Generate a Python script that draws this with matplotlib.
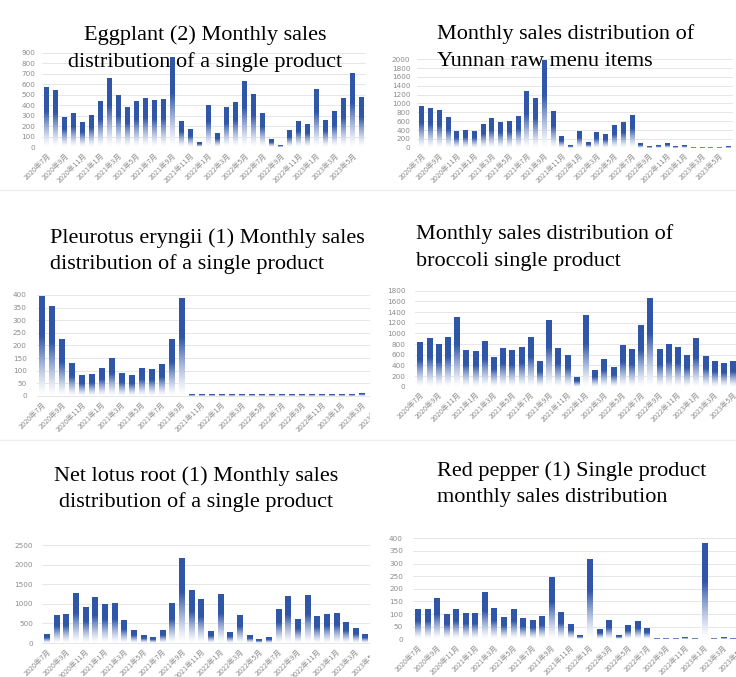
import matplotlib
matplotlib.use("Agg")
import matplotlib.pyplot as plt
import numpy as np
from matplotlib.colors import to_rgb
from matplotlib.lines import Line2D
from matplotlib.transforms import Bbox, TransformedBbox

W, H = 736, 677

months = [
    "2020年7月", "2020年8月", "2020年9月", "2020年10月", "2020年11月", "2020年12月",
    "2021年1月", "2021年2月", "2021年3月", "2021年4月", "2021年5月", "2021年6月",
    "2021年7月", "2021年8月", "2021年9月", "2021年10月", "2021年11月", "2021年12月",
    "2022年1月", "2022年2月", "2022年3月", "2022年4月", "2022年5月", "2022年6月",
    "2022年7月", "2022年8月", "2022年9月", "2022年10月", "2022年11月", "2022年12月",
    "2023年1月", "2023年2月", "2023年3月", "2023年4月", "2023年5月", "2023年6月",
]

eggplant = [570, 540, 280, 315, 235, 305, 430, 655, 490, 380, 430, 465,
            440, 450, 850, 245, 170, 40, 400, 125, 380, 420, 625, 500,
            320, 70, 10, 160, 240, 210, 550, 255, 340, 460, 705, 475]
yunnan = [950, 900, 840, 690, 380, 390, 380, 540, 660, 570, 600, 720,
          1280, 1110, 1990, 820, 270, 50, 370, 120, 340, 300, 510, 580,
          740, 100, 40, 55, 105, 25, 50, 8, 15, 22, 22, 45]
# the screenshots of the next four charts are cut off on the right
pleurotus = [395, 355, 225, 130, 82, 85, 110, 150, 90, 80, 110, 105,
             125, 225, 385, 5, 5, 5, 5, 5, 5, 5, 5, 5,
             5, 5, 5, 5, 5, 5, 5, 5, 8]
broccoli = [830, 900, 790, 930, 1310, 680, 660, 850, 555, 730, 690, 750,
            920, 470, 1240, 730, 600, 170, 1340, 310, 510, 360, 770, 700,
            1160, 1650, 710, 800, 750, 590, 900, 570, 470, 450, 470]
lotus = [210, 690, 730, 1270, 900, 1160, 980, 1000, 570, 320, 190, 130,
         310, 1000, 2150, 1330, 1100, 300, 1250, 260, 700, 200, 100, 130,
         850, 1180, 610, 1210, 680, 730, 750, 530, 380, 210]
red_pepper = [118, 118, 160, 98, 115, 100, 100, 185, 120, 85, 115, 80,
              72, 90, 243, 103, 57, 12, 315, 38, 72, 13, 55, 70,
              40, 3, 3, 3, 6, 3, 380, 3, 5, 3]

BLUE = to_rgb("#2f56a8")
GRID = "#e6e6e6"
TICK = "#8c8c8c"
SERIF = "Liberation Serif"
CJK = ["Noto Sans CJK SC", "DejaVu Sans"]


def bar_gradient(n=80):
    # dark blue at the top fading out to white at the base
    t = np.linspace(0, 1, n)[:, None]
    k = np.clip(t / 0.6, 0, 1) ** 1.3
    return (1 - k)[..., None] * np.ones(3) + k[..., None] * np.array(BLUE)


GRAD = bar_gradient()


def panel(fig, vals, first_x, step, zero_y, top_y, ymax, ystep, ypad, cut=None):
    # geometry is given in pixels (top-left origin) and turned into figure fractions
    left = first_x - step / 2
    width = step * 36
    ax = fig.add_axes([left / W, 1 - zero_y / H, width / W, (zero_y - top_y) / H])
    x = np.arange(len(vals))
    bars = ax.bar(x, vals, width=0.55, color="none", edgecolor="none")
    for b in bars:
        x0, y0 = b.get_xy()
        ax.imshow(GRAD, extent=(x0, x0 + b.get_width(), y0, y0 + b.get_height()),
                  origin="lower", aspect="auto", interpolation="bilinear", zorder=2)
    ax.set_xlim(-0.5, 35.5)
    ax.set_ylim(0, ymax)
    ax.set_yticks(np.arange(0, ymax + ystep, ystep))
    ax.set_xticks(range(0, 36, 2))
    ax.set_xticklabels(months[::2], rotation=45, ha="right", va="top",
                       rotation_mode="anchor", fontsize=5.2, color=TICK, family=CJK)
    ax.tick_params(axis="y", length=0, pad=ypad * 0.72, labelsize=5.2, labelcolor=TICK)
    ax.tick_params(axis="x", length=0, pad=3)
    ax.yaxis.grid(True, color=GRID, lw=0.7)
    ax.set_axisbelow(True)
    for s in ax.spines.values():
        s.set_visible(False)
    ax.set_facecolor("none")
    if cut is not None:
        clip = TransformedBbox(Bbox.from_extents(0, 0, cut / W, 1), fig.transFigure)
        for art in ax.images + ax.get_xticklabels():
            art.set_clip_box(clip)
            art.set_clip_on(True)
        for tick in ax.yaxis.get_major_ticks():
            tick.gridline.set_clip_box(clip)
    return ax


def title(fig, lines, x, baselines, ha="left"):
    for text, yb in zip(lines, baselines):
        fig.text(x / W, 1 - yb / H, text, ha=ha, va="baseline",
                 fontsize=16, family=SERIF, color="black", zorder=10)


fig = plt.figure(figsize=(W / 100, H / 100), dpi=100)

# faint borders left over from the chart screenshots
for y in (190, 440):
    fig.add_artist(Line2D([0, 1], [1 - y / H] * 2, color="#eeeeee", lw=1.0))

panel(fig, eggplant, 46.7, 9.0, 147, 52.7, 900, 100, 7)
panel(fig, yunnan, 421.7, 8.76, 147.7, 59.3, 2000, 200, 7)
panel(fig, pleurotus, 41.7, 10.0, 396, 295, 400, 50, 10, cut=370)
panel(fig, broccoli, 420, 9.2, 386.7, 290.7, 1800, 200, 10)
panel(fig, lotus, 46.7, 9.65, 643, 545, 2500, 500, 9, cut=370)
panel(fig, red_pepper, 417.7, 9.55, 639.3, 538.3, 400, 50, 10)

title(fig, ["Eggplant (2) Monthly sales", "distribution of a single product"],
      205, (40, 67), ha="center")
title(fig, ["Monthly sales distribution of", "Yunnan raw menu items"],
      437, (39, 66))
title(fig, ["Pleurotus eryngii (1) Monthly sales", "distribution of a single product"],
      50, (243, 269))
title(fig, ["Monthly sales distribution of", "broccoli single product"],
      416, (239, 266))
title(fig, ["Net lotus root (1) Monthly sales", "distribution of a single product"],
      196, (481, 507), ha="center")
title(fig, ["Red pepper (1) Single product", "monthly sales distribution"],
      437, (476, 502))

fig.savefig("out.png", dpi=100, facecolor="white")
